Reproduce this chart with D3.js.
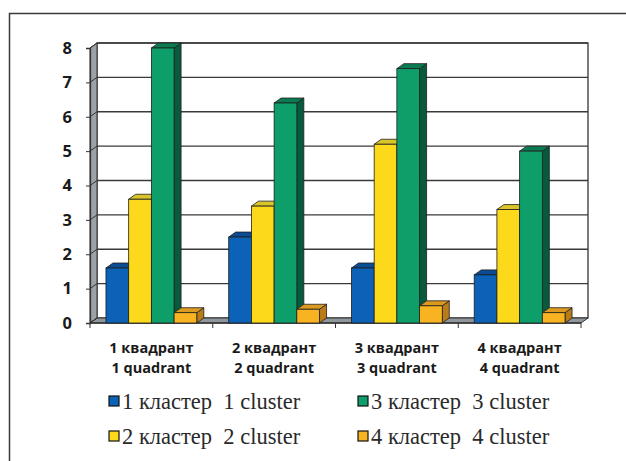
<!DOCTYPE html>
<html>
<head>
<meta charset="utf-8">
<script src="https://cdn.jsdelivr.net/npm/d3@7"></script>
<style>
  body { margin: 0; background: #fff; }
  svg { display: block; }
</style>
</head>
<body>
<script>
// data
var quadrants = ["1 квадрант|1 quadrant", "2 квадрант|2 quadrant", "3 квадрант|3 quadrant", "4 квадрант|4 quadrant"];
var seriesNames = ["1 кластер  1 cluster", "2 кластер  2 cluster", "3 кластер  3 cluster", "4 кластер  4 cluster"];
var cluster1 = [1.6, 2.5, 1.6, 1.4];
var cluster2 = [3.6, 3.4, 5.2, 3.3];
var cluster3 = [8.0, 6.4, 7.4, 5.0];
var cluster4 = [0.3, 0.4, 0.5, 0.3];
var yTicks = [0, 1, 2, 3, 4, 5, 6, 7, 8];

var allSeries = [cluster1, cluster2, cluster3, cluster4];
var front = ["#0b62b6", "#fdd91c", "#0e9e69", "#f8b322"];
var topC = ["#0a4d95", "#d9c42a", "#0b7c52", "#dc9a1e"];
var sideC = ["#083f7a", "#b8a418", "#075a3b", "#b97d17"];

var W = 626, H = 461;
var dx = 7, dy = 5;   // depth offset of the 3D box

var svg = d3.select("body").append("svg").attr("width", W).attr("height", H);

// outer frame (runs off the right and bottom)
svg.append("rect").attr("x", 9.5).attr("y", 13.5).attr("width", 700).attr("height", 600)
  .attr("fill", "none").attr("stroke", "#3a3a3a").attr("stroke-width", 1.5);

var x0 = d3.scaleBand().domain(quadrants).range([90, 581]);
var x1 = d3.scaleBand().domain(d3.range(4))
  .range([x0.bandwidth() * 0.13, x0.bandwidth() * 0.87]);
var y = d3.scaleLinear().domain([0, 8]).range([323, 48]);

var left = x0.range()[0], right = x0.range()[1];

// back wall
svg.append("rect").attr("x", left + dx).attr("y", y(8) - dy)
  .attr("width", right - left).attr("height", y(0) - y(8))
  .attr("fill", "#fff").attr("stroke", "#333").attr("stroke-width", 1.3);

// left wall
svg.append("path")
  .attr("d", "M" + left + "," + y(0) + "L" + left + "," + y(8) + "L" + (left + dx) + "," + (y(8) - dy) +
    "L" + (left + dx) + "," + (y(0) - dy) + "Z")
  .attr("fill", "#9ca3a8").attr("stroke", "#333").attr("stroke-width", 1);

// floor
svg.append("path")
  .attr("d", "M" + left + "," + y(0) + "L" + (left + dx) + "," + (y(0) - dy) + "L" + (right + dx) + "," + (y(0) - dy) +
    "L" + right + "," + y(0) + "Z")
  .attr("fill", "#8f979c").attr("stroke", "#333").attr("stroke-width", 1);

// gridlines on back wall and left wall
var grid = svg.append("g");
yTicks.forEach(function (t) {
  if (t > 0) {
    grid.append("line").attr("x1", left + dx).attr("x2", right + dx)
      .attr("y1", y(t) - dy).attr("y2", y(t) - dy)
      .attr("stroke", "#3a3a3a").attr("stroke-width", 1.3);
  }
  grid.append("line").attr("x1", left).attr("x2", left + dx)
    .attr("y1", y(t)).attr("y2", y(t) - dy)
    .attr("stroke", "#333").attr("stroke-width", 1);
});

// y axis
var yAxis = svg.append("g").attr("transform", "translate(" + left + ",0)")
  .call(d3.axisLeft(y).tickValues(yTicks).tickSize(4).tickPadding(14).tickFormat(d3.format("d")));
yAxis.select(".domain").attr("stroke", "#333").attr("stroke-width", 1.3);
yAxis.selectAll(".tick line").attr("stroke", "#333");
yAxis.selectAll("text").attr("font-family", "'Open Sans', sans-serif").attr("font-weight", "bold")
  .attr("font-size", 16.5).attr("fill", "#1a1a1a");

// x axis line + ticks at category boundaries
var xg = svg.append("g");
xg.append("line").attr("x1", left).attr("x2", right).attr("y1", y(0)).attr("y2", y(0))
  .attr("stroke", "#333").attr("stroke-width", 1.3);
quadrants.concat([null]).forEach(function (q, i) {
  var xx = q ? x0(q) : right;
  xg.append("line").attr("x1", xx).attr("x2", xx).attr("y1", y(0)).attr("y2", y(0) + 5)
    .attr("stroke", "#333").attr("stroke-width", 1);
});

// bars
var groups = svg.selectAll("g.grp").data(quadrants).enter().append("g")
  .attr("class", "grp").attr("transform", function (d) { return "translate(" + x0(d) + ",0)"; });

groups.each(function (q, qi) {
  var g = d3.select(this);
  allSeries.forEach(function (vals, si) {
    var v = vals[qi];
    var bx = x1(si), bw = x1.bandwidth();
    var yt = y(v), yb = y(0);
    // side face
    g.append("path")
      .attr("d", "M" + (bx + bw) + "," + yb + "L" + (bx + bw) + "," + yt + "L" + (bx + bw + dx) + "," + (yt - dy) +
        "L" + (bx + bw + dx) + "," + (yb - dy) + "Z")
      .attr("fill", sideC[si]).attr("stroke", "#1e1e1e").attr("stroke-width", 0.8);
    // top face
    g.append("path")
      .attr("d", "M" + bx + "," + yt + "L" + (bx + dx) + "," + (yt - dy) + "L" + (bx + bw + dx) + "," + (yt - dy) +
        "L" + (bx + bw) + "," + yt + "Z")
      .attr("fill", topC[si]).attr("stroke", "#1e1e1e").attr("stroke-width", 0.8);
    // front face
    g.append("rect").attr("x", bx).attr("y", yt).attr("width", bw).attr("height", yb - yt)
      .attr("fill", front[si]).attr("stroke", "#1e1e1e").attr("stroke-width", 0.8);
  });
});

// category labels (two lines)
var labs = svg.append("g");
quadrants.forEach(function (q) {
  var cx = x0(q) + x0.bandwidth() / 2;
  q.split("|").forEach(function (line, li) {
    labs.append("text").attr("x", cx).attr("y", 353 + li * 20)
      .attr("text-anchor", "middle")
      .attr("font-family", "'Open Sans', sans-serif").attr("font-weight", "bold")
      .attr("font-size", 14.5).attr("fill", "#1a1a1a").text(line);
  });
});

// legend
var legPos = [[109, 402], [109, 437], [358, 402], [358, 437]];
var leg = svg.append("g");
seriesNames.forEach(function (name, i) {
  var p = legPos[i];
  leg.append("rect").attr("x", p[0]).attr("y", p[1] - 6).attr("width", 10).attr("height", 10)
    .attr("fill", front[i]).attr("stroke", "#111").attr("stroke-width", 1.2);
  leg.append("text").attr("x", p[0] + 13).attr("y", p[1] + 7)
    .attr("font-family", "'Liberation Serif', 'Times New Roman', serif")
    .attr("font-size", 22.5).attr("fill", "#2a2a2a")
    .attr("xml:space", "preserve").style("white-space", "pre").text(name);
});
</script>
</body>
</html>
